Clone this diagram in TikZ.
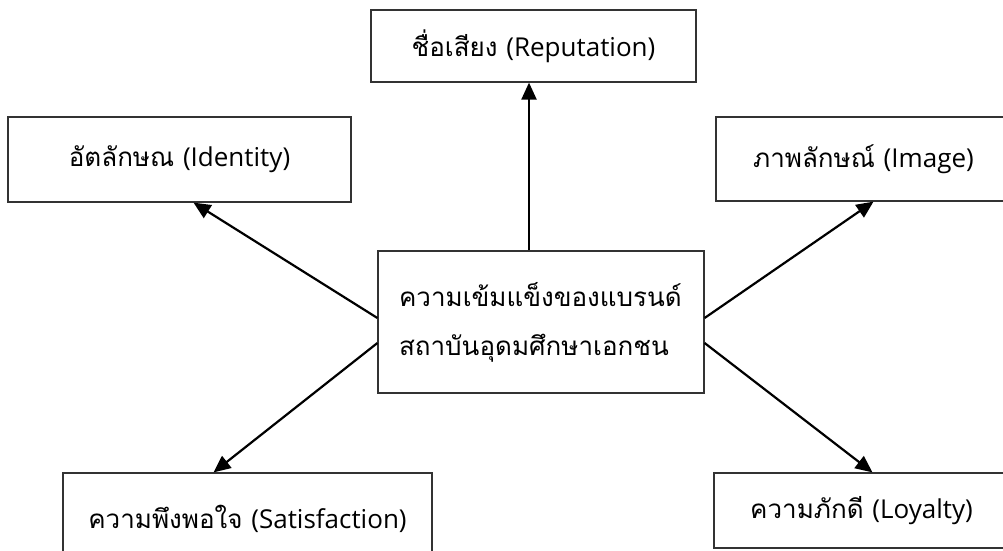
\documentclass[tikz,border=0pt]{standalone}
\usepackage{fontspec}
\setmainfont[Script=Thai]{Loma}
\newfontfamily\latinfont{Open Sans}
\usetikzlibrary{arrows.meta,positioning}
\tikzset{
  box/.style={rectangle, draw=black!80, line width=1.2pt, inner sep=0pt, text centered, font=\fontsize{26}{49}\selectfont},
  hubbox/.style={rectangle, draw=black!80, line width=1.2pt, inner xsep=21pt, inner ysep=0pt, align=left, text width=284pt, font=\fontsize{26}{49}\selectfont},
  line/.style={draw, line width=2.2pt, -{Triangle[length=17pt,width=15pt]}},
}
\begin{document}
\begin{tikzpicture}[x=1pt,y=-1pt]
  \useasboundingbox (0,0) rectangle (1003,550);
  \clip (0,0) rectangle (1003,550);
  % centre
  \node[hubbox, minimum height=142pt] (hub) at (541,322) {ความเข้มแข็งของแบรนด์\\สถาบันอุดมศึกษาเอกชน\\[-10pt]};
  % outer boxes
  \node[box, minimum width=325pt, minimum height=72pt] (rep) at (533.5,46) {ชื่อเสียง {\latinfont(Reputation)}};
  \node[box, minimum width=343pt, minimum height=85pt] (ident) at (179.5,159.5) {อัตลักษณ {\latinfont(Identity)}};
  \node[box, minimum width=295pt, minimum height=84pt] (img) at (863.5,159) {ภาพลักษณ์ {\latinfont(Image)}};
  \node[box, minimum width=369pt, minimum height=92pt] (satis) at (247.5,519) {ความพึงพอใจ {\latinfont(Satisfaction)}};
  \node[box, minimum width=295pt, minimum height=75pt] (loyal) at (861.5,510.5) {ความภักดี {\latinfont(Loyalty)}};
  % arrows
  \path[line] ([xshift=-4.5pt]rep.south |- hub.north) -- ([xshift=-4.5pt]rep.south);
  \path[line] ([yshift=4pt]hub.west) -- ([xshift=14pt]ident.south);
  \path[line] ([yshift=-21pt]hub.west) -- ([xshift=-34pt]satis.north);
  \path[line] ([yshift=4pt]hub.east) -- ([xshift=10pt]img.south);
  \path[line] ([yshift=-21pt]hub.east) -- ([xshift=11pt]loyal.north);
\end{tikzpicture}
\end{document}
